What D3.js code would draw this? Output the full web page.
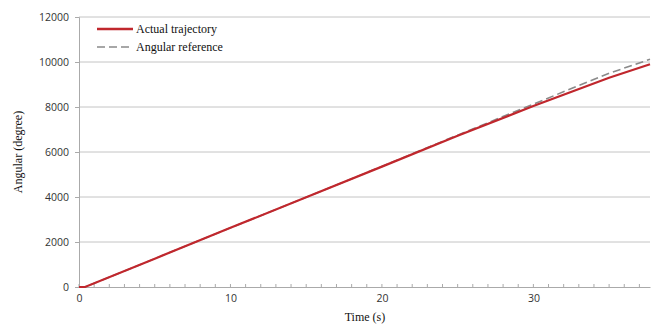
<!DOCTYPE html>
<html>
<head>
<meta charset="utf-8">
<script src="https://cdn.jsdelivr.net/npm/d3@7"></script>
<style>
  body { margin: 0; background: #fff; }
  .tick text { font-family: "Open Sans", sans-serif; font-size: 10.5px; fill: #333; }
  .ttl { font-family: "Liberation Serif", serif; font-size: 12px; fill: #111; }
</style>
</head>
<body>
<svg id="chart" width="652" height="326"></svg>
<script>
// time (s)
var times = [0, 0.4, 5, 10, 15, 20, 25, 30, 35, 37.7];
// angle values (degree)
var actual    = [0, 0, 1260, 2630, 3990, 5350, 6720, 8040, 9300, 9900];
var reference = [0, 0, 1260, 2630, 3990, 5360, 6750, 8130, 9500, 10120];
var xTicks = [0, 10, 20, 30];
var yTicks = [0, 2000, 4000, 6000, 8000, 10000, 12000];
var legendNames = ["Actual trajectory", "Angular reference"];

var svg = d3.select("#chart");
var plotL = 79, plotR = 650, plotT = 17, plotB = 287;

var x = d3.scaleLinear().domain([0, 37.7]).range([plotL, plotR]);
var y = d3.scaleLinear().domain([0, 12000]).range([plotB, plotT]);

// gridlines
svg.append("g").selectAll("line")
    .data(yTicks.slice(1))
    .enter().append("line")
    .attr("x1", plotL).attr("x2", plotR)
    .attr("y1", function(d) { return y(d); })
    .attr("y2", function(d) { return y(d); })
    .attr("stroke", "#c4c4c4").attr("stroke-width", 1);

// y axis
var yAxis = svg.append("g")
    .attr("transform", "translate(" + plotL + ",0)")
    .call(d3.axisLeft(y).tickValues(yTicks).tickSize(4).tickPadding(6).tickFormat(d3.format("d")));
yAxis.select(".domain").attr("stroke", "#aaa");
yAxis.selectAll(".tick line").attr("stroke", "#aaa");

// x axis minor ticks every second
var minor = d3.range(0, 38, 1);
svg.append("g").selectAll("line")
    .data(minor)
    .enter().append("line")
    .attr("x1", function(d) { return x(d); })
    .attr("x2", function(d) { return x(d); })
    .attr("y1", plotB - 3).attr("y2", plotB + 1)
    .attr("stroke", "#aaa");

var xAxis = svg.append("g")
    .attr("transform", "translate(0," + plotB + ")")
    .call(d3.axisBottom(x).tickValues(xTicks).tickSize(0).tickPadding(8));
xAxis.select(".domain").attr("stroke", "#aaa");

var line = d3.line()
    .x(function(d, i) { return x(times[i]); })
    .y(function(d) { return y(d); });

svg.append("path").datum(reference)
    .attr("d", line).attr("fill", "none")
    .attr("stroke", "#8a8a8a").attr("stroke-width", 1.6)
    .attr("stroke-dasharray", "8,4");

svg.append("path").datum(actual)
    .attr("d", line).attr("fill", "none")
    .attr("stroke", "#c0272d").attr("stroke-width", 2.2);

// legend
var lg = svg.append("g");
lg.append("line").attr("x1", 97).attr("x2", 133).attr("y1", 29).attr("y2", 29)
    .attr("stroke", "#c0272d").attr("stroke-width", 2.5);
lg.append("line").attr("x1", 97).attr("x2", 133).attr("y1", 47).attr("y2", 47)
    .attr("stroke", "#8a8a8a").attr("stroke-width", 1.6).attr("stroke-dasharray", "8,4");
lg.selectAll("text").data(legendNames).enter().append("text")
    .attr("class", "ttl")
    .attr("x", 136)
    .attr("y", function(d, i) { return 33 + i * 18; })
    .text(function(d) { return d; });

// axis titles
svg.append("text").attr("class", "ttl")
    .attr("x", 365).attr("y", 321).attr("text-anchor", "middle")
    .text("Time (s)");
svg.append("text").attr("class", "ttl")
    .attr("transform", "translate(22," + 152 + ") rotate(-90)")
    .attr("text-anchor", "middle")
    .text("Angular (degree)");
</script>
</body>
</html>
